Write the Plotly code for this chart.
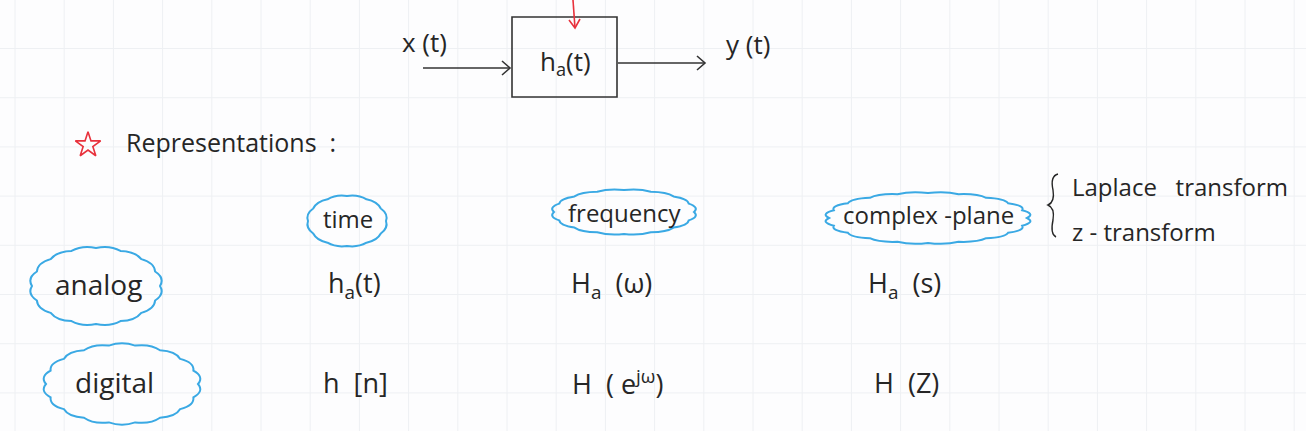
import numpy as np
import plotly.graph_objects as go

# ── data ───────────────────────────────────────────
row_labels = ["analog", "digital"]
col_labels = ["time", "frequency", "complex -plane"]
cells = [
    ["h<sub>a</sub>(t)", "H<sub>a</sub>  (ω)", "H<sub>a</sub>  (s)"],
    ["h  [n]", "H  ( e<sup>jω</sup>)", "H  (Z)"],
]
transforms = ["Laplace   transform", "z - transform"]
block_in, block_sys, block_out = "x (t)", "h<sub>a</sub>(t)", "y (t)"
heading = "Representations  :"

W, H = 1306, 431
INK = "#262626"
BLUE = "#3aa9e4"
RED = "#e8313c"
FONT = "Open Sans"

col_x = [348, 624, 928]
head_y = [218, 212, 214]
row_y = [284, 382]
label_x = [98, 114]

fig = go.Figure()

# ── notebook grid ───────────────────────────────────
shapes = []
for gx in np.arange(15, W, 49.2):
    shapes.append(dict(type="line", x0=gx, x1=gx, y0=0, y1=H,
                       line=dict(color="#eef0f3", width=1), layer="below"))
for gy in np.arange(48.5, H, 49.2):
    shapes.append(dict(type="line", x0=0, x1=W, y0=gy, y1=gy,
                       line=dict(color="#eef0f3", width=1), layer="below"))


def cloud(cx, cy, rx, ry, n):
    # scalloped outline around an ellipse
    ang = np.linspace(0, 2 * np.pi, n + 1)
    pts = [(cx + rx * np.cos(a), cy + ry * np.sin(a)) for a in ang]
    path = f"M {pts[0][0]:.1f},{pts[0][1]:.1f}"
    for i in range(n):
        am = (ang[i] + ang[i + 1]) / 2
        qx = cx + rx * 1.1 * np.cos(am)
        qy = cy + ry * 1.1 * np.sin(am)
        path += f" Q {qx:.1f},{qy:.1f} {pts[i + 1][0]:.1f},{pts[i + 1][1]:.1f}"
    return dict(type="path", path=path + " Z", line=dict(color=BLUE, width=2))


shapes += [
    cloud(347, 221, 39, 25, 12),
    cloud(624, 212, 70, 22, 16),
    cloud(928, 218, 99, 25, 20),
    cloud(96, 286, 64, 38, 16),
    cloud(122, 384, 76, 39, 18),
]

# block diagram
ln = dict(color="#333333", width=1.6)
shapes += [
    dict(type="rect", x0=512, x1=617, y0=17, y1=97, line=ln),
    dict(type="line", x0=423, x1=510, y0=68, y1=68, line=ln),
    dict(type="path", path="M 502,61 L 510,68 L 502,75", line=ln),
    dict(type="line", x0=618, x1=705, y0=63, y1=63, line=ln),
    dict(type="path", path="M 697,56 L 705,63 L 697,70", line=ln),
    # red arrow into the block
    dict(type="line", x0=573, x1=575, y0=0, y1=28, line=dict(color=RED, width=1.6)),
    dict(type="path", path="M 569,20 L 575,28 L 580,19", line=dict(color=RED, width=1.6)),
    # brace
    dict(type="path",
         path="M 1058,174 Q 1050,176 1053,190 Q 1055,202 1048,205 "
              "Q 1055,208 1053,220 Q 1050,234 1056,237",
         line=dict(color=INK, width=1.4)),
]

# ── text ────────────────────────────────────────────
ann = []


def label(x, y, text, size, anchor="center"):
    ann.append(dict(x=x, y=y, text=text, showarrow=False, xanchor=anchor,
                    yanchor="middle", font=dict(family=FONT, size=size, color=INK)))


for c, name in enumerate(col_labels):
    label(col_x[c], head_y[c], name, 24)
for r, name in enumerate(row_labels):
    label(label_x[r], row_y[r], name, 28)
cell_x = [[354, 611, 904], [355, 617, 906]]
for r, row in enumerate(cells):
    for c, txt in enumerate(row):
        label(cell_x[r][c], row_y[r], txt, 27)

label(1070, 186, transforms[0], 24, "left")
label(1070, 231, transforms[1], 24, "left")

label(424, 42, block_in, 26)
label(565, 62, block_sys, 26)
label(748, 44, block_out, 26)
label(124, 142, heading, 25, "left")

fig.add_trace(go.Scatter(
    x=[88], y=[145], mode="markers", hoverinfo="skip",
    marker=dict(symbol="star-open", size=19, color=RED, line=dict(width=1.6))))

fig.update_layout(
    width=W, height=H, margin=dict(l=0, r=0, t=0, b=0),
    paper_bgcolor="#fdfdfe", plot_bgcolor="#fdfdfe",
    showlegend=False, shapes=shapes, annotations=ann,
    xaxis=dict(range=[0, W], visible=False, fixedrange=True),
    yaxis=dict(range=[H, 0], visible=False, fixedrange=True),
)
fig.write_html("out.html", config={"displayModeBar": False},
               post_script="document.body.style.margin='0';")
